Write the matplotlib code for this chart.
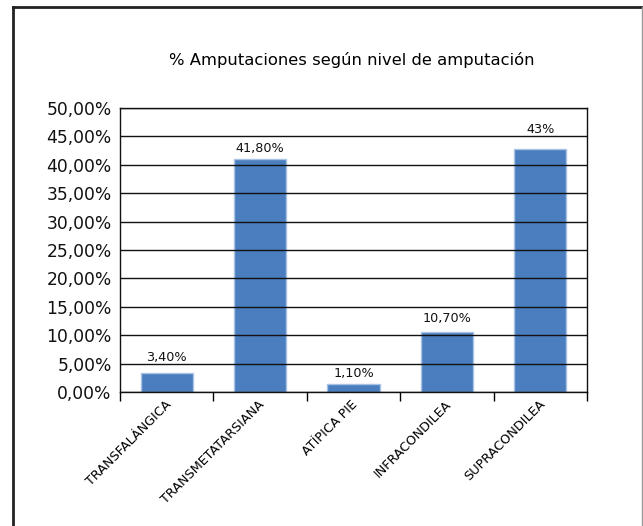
import matplotlib
matplotlib.use('Agg')
import matplotlib.pyplot as plt
from matplotlib.lines import Line2D
from matplotlib.transforms import ScaledTranslation

# data
categories = ['TRANSFALÁNGICA', 'TRANSMETATARSIANA', 'ATÍPICA PIE', 'INFRACONDILEA', 'SUPRACONDILEA']
bar_values = [3.4, 41.0, 1.35, 10.6, 42.75]
value_labels = ['3,40%', '41,80%', '1,10%', '10,70%', '43%']
y_ticks = [0, 5, 10, 15, 20, 25, 30, 35, 40, 45, 50]
y_tick_labels = ['0,00%', '5,00%', '10,00%', '15,00%', '20,00%', '25,00%',
                 '30,00%', '35,00%', '40,00%', '45,00%', '50,00%']
title = '% Amputaciones según nivel de amputación'

# label offsets above each bar (points)
label_offsets = [6.0, 3.2, 2.8, 5.0, 9.5]

plt.rcParams['font.family'] = ['DejaVu Sans']

fig = plt.figure(figsize=(6.43, 5.26), dpi=100)
ax = fig.add_axes([0.1866, 0.2548, 0.7263, 0.54])

x = list(range(len(categories)))
ax.bar(x, bar_values, width=0.56, color='#4A7EBF', edgecolor='#A9C3E6', linewidth=1)

for xi, v, lab, off in zip(x, bar_values, value_labels, label_offsets):
    ax.annotate(lab, (xi, v), xytext=(0, off), textcoords='offset points',
                ha='center', va='bottom', fontsize=9.2, color='#111111')

ax.set_xlim(-0.5, len(categories) - 0.5)
ax.set_ylim(0, 50)
ax.set_yticks(y_ticks, y_tick_labels)
ax.yaxis.grid(True, color='#111111', linewidth=1)
ax.tick_params(axis='y', length=0, pad=6, labelsize=12.3, labelcolor='#111111')

# tick marks between categories, labels at the centres
ax.set_xticks([i - 0.5 for i in range(len(categories) + 1)])
ax.set_xticklabels([])
ax.tick_params(axis='x', which='major', length=6.5, width=1, direction='out')
ax.set_xticks(x, categories, minor=True)
ax.tick_params(axis='x', which='minor', length=0, pad=4, labelsize=9.2)
for lbl in ax.get_xticklabels(minor=True):
    lbl.set_rotation(45)
    lbl.set_ha('right')
    lbl.set_va('top')
    lbl.set_transform(lbl.get_transform() + ScaledTranslation(0.07, 0, fig.dpi_scale_trans))

for s in ax.spines.values():
    s.set_color('#111111')
    s.set_linewidth(1)

fig.text(352 / 643, 1 - 60 / 526, title, ha='center', va='center', fontsize=11.8)

# frame around the whole picture
fig.add_artist(Line2D([13 / 643, 13 / 643], [0, 1 - 7 / 526], transform=fig.transFigure,
                      color='#222222', linewidth=2))
fig.add_artist(Line2D([13 / 643, 1], [1 - 7 / 526, 1 - 7 / 526], transform=fig.transFigure,
                      color='#222222', linewidth=2))
fig.add_artist(Line2D([641.5 / 643, 641.5 / 643], [0, 1 - 7 / 526], transform=fig.transFigure,
                      color='#999999', linewidth=1))

fig.savefig('out.png', dpi=100)
